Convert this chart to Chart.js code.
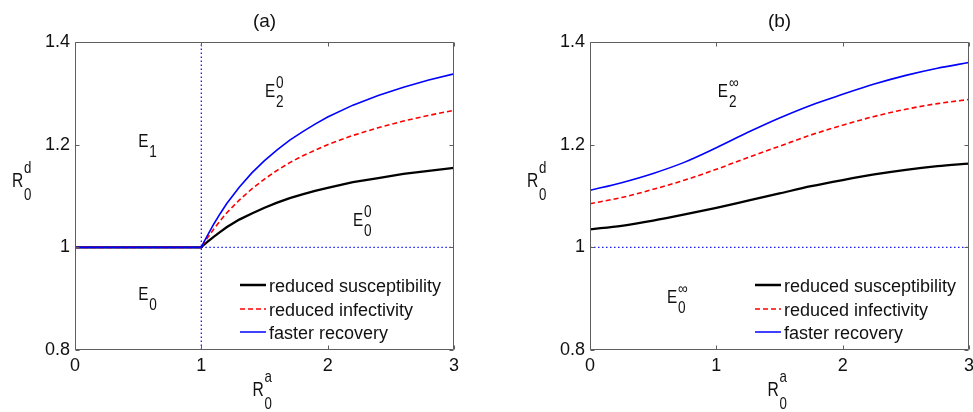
<!DOCTYPE html>
<html>
<head>
<meta charset="utf-8">
<script src="https://cdn.jsdelivr.net/npm/chart.js@4.4.1/dist/chart.umd.min.js"></script>
<style>
  html, body { margin: 0; padding: 0; background: #ffffff; }
  #wrap { position: relative; width: 973px; height: 412px; overflow: hidden; }
  canvas { position: absolute; top: 0; }
  #ca { left: 0; }
  #cb { left: 487px; }
</style>
</head>
<body>
<div id="wrap">
  <canvas id="ca" width="487" height="412"></canvas>
  <canvas id="cb" width="486" height="412"></canvas>
</div>
<script>
// ---------- data ----------
const xTicks = [0, 1, 2, 3];
const xTickLabels = ['0', '1', '2', '3'];
const yTicks = [0.8, 1, 1.2, 1.4];
const yTickLabels = ['0.8', '1', '1.2', '1.4'];

const seriesNames = ['reduced susceptibility', 'reduced infectivity', 'faster recovery'];

// panel (a)
const xA = [0, 1, 1.02, 1.05, 1.1, 1.15, 1.2, 1.3, 1.4, 1.5, 1.6, 1.7, 1.8, 1.9, 2.0, 2.2, 2.4, 2.6, 2.8, 3.0];
const suscA = [1, 1, 1.005, 1.011, 1.021, 1.030, 1.039, 1.054, 1.066, 1.077, 1.087, 1.096, 1.103, 1.110, 1.116, 1.127, 1.135, 1.143, 1.149, 1.155];
const infA  = [1, 1, 1.008, 1.019, 1.036, 1.052, 1.067, 1.092, 1.114, 1.133, 1.150, 1.165, 1.178, 1.189, 1.200, 1.218, 1.233, 1.246, 1.257, 1.267];
const recA  = [1, 1, 1.010, 1.024, 1.046, 1.066, 1.085, 1.117, 1.145, 1.169, 1.190, 1.209, 1.225, 1.240, 1.254, 1.277, 1.296, 1.312, 1.326, 1.338];
const vLineAx = [1, 1];
const vLineAy = [0.8, 1.4];
const hLineAx = [1, 3];
const hLineAy = [1, 1];

// panel (b)
const xB = [0, 0.25, 0.5, 0.75, 1.0, 1.25, 1.5, 1.75, 2.0, 2.25, 2.5, 2.75, 3.0];
const suscB = [1.035, 1.042, 1.052, 1.064, 1.077, 1.091, 1.105, 1.119, 1.131, 1.142, 1.151, 1.158, 1.163];
const infB  = [1.085, 1.097, 1.113, 1.131, 1.152, 1.175, 1.197, 1.219, 1.238, 1.255, 1.269, 1.280, 1.288];
const recB  = [1.111, 1.126, 1.144, 1.166, 1.194, 1.224, 1.252, 1.277, 1.298, 1.318, 1.335, 1.349, 1.360];
const hLineBx = [0, 3];
const hLineBy = [1, 1];

// ---------- helpers ----------
const FONT = '"Liberation Sans", Arial, Helvetica, sans-serif';
const zip = (xs, ys) => xs.map((x, i) => ({ x: x, y: ys[i] }));

function texLabel(ctx, x, y, base, sup, sub, bf, sf, supDy, subDy, sx) {
  ctx.save();
  ctx.translate(x, y);
  ctx.scale(sx, 1);
  ctx.textAlign = 'left';
  ctx.textBaseline = 'alphabetic';
  ctx.fillStyle = '#111';
  ctx.font = bf;
  ctx.fillText(base, 0, 0);
  const w = ctx.measureText(base).width;
  ctx.font = sf;
  if (sup) ctx.fillText(sup, w + 1, -supDy);
  if (sub) ctx.fillText(sub, w + 1, subDy);
  ctx.restore();
}

const annotPlugin = {
  id: 'annot',
  afterDraw(chart, args, opts) {
    const ctx = chart.ctx;
    const ca = chart.chartArea;
    const xs = chart.scales.x, ys = chart.scales.y;
    ctx.save();
    // axes box
    ctx.strokeStyle = '#5e5e5e';
    ctx.lineWidth = 1;
    const L = Math.round(ca.left) + 0.5, T = Math.round(ca.top) + 0.5;
    const R = Math.round(ca.right) - 0.5, B = Math.round(ca.bottom) - 0.5;
    ctx.beginPath();
    ctx.rect(L, T, R - L, B - T);
    ctx.stroke();
    // inward ticks
    const tl = 4;
    ctx.beginPath();
    xTicks.forEach(v => {
      const px = Math.round(xs.getPixelForValue(v)) + 0.5;
      ctx.moveTo(px, B); ctx.lineTo(px, B - tl);
      ctx.moveTo(px, T); ctx.lineTo(px, T + tl);
    });
    yTicks.forEach(v => {
      const py = Math.round(ys.getPixelForValue(v)) + 0.5;
      ctx.moveTo(L, py); ctx.lineTo(L + tl, py);
      ctx.moveTo(R, py); ctx.lineTo(R - tl, py);
    });
    ctx.stroke();

    // title
    ctx.fillStyle = '#111';
    ctx.font = '19px ' + FONT;
    ctx.textAlign = 'center';
    ctx.textBaseline = 'middle';
    ctx.fillText(opts.title, (ca.left + ca.right) / 2, 22);

    // axis labels
    const cx = (ca.left + ca.right) / 2;
    texLabel(ctx, cx - 12, 396, 'R', 'a', '0', '20px ' + FONT, '17px ' + FONT, 14, 13, 0.78);
    texLabel(ctx, ca.left - 63, 187, 'R', 'd', '0', '20px ' + FONT, '17px ' + FONT, 14, 13, 0.78);

    // region labels (placed in data coordinates)
    opts.regions.forEach(r => {
      texLabel(ctx, xs.getPixelForValue(r.x), ys.getPixelForValue(r.y), 'E', r.sup, r.sub,
        '18px ' + FONT, '16px ' + FONT, 9, 10, 0.85);
    });

    // legend
    const lx0 = ca.right - 214, lx1 = ca.right - 188, tx = ca.right - 185;
    const rows = [285, 309, 332];
    const styles = [
      { c: '#000000', w: 2.5, d: [] },
      { c: '#ff0000', w: 1.5, d: [5, 3] },
      { c: '#0000ff', w: 1.5, d: [] }
    ];
    seriesNames.forEach((name, i) => {
      const s = styles[i];
      ctx.beginPath();
      ctx.setLineDash(s.d);
      ctx.strokeStyle = s.c;
      ctx.lineWidth = s.w;
      ctx.moveTo(lx0, rows[i]); ctx.lineTo(lx1, rows[i]);
      ctx.stroke();
      ctx.setLineDash([]);
      ctx.fillStyle = '#111';
      ctx.font = '18px ' + FONT;
      ctx.textAlign = 'left';
      ctx.textBaseline = 'middle';
      ctx.fillText(name, tx, rows[i] + 2);
    });
    ctx.restore();
  }
};

function makeChart(id, yAxisWidth, padRight, datasets, title, regions, cubic) {
  const ds = datasets.map(d => Object.assign({
    fill: false, pointRadius: 0, pointHoverRadius: 0, tension: 0,
    cubicInterpolationMode: cubic ? 'monotone' : 'default'
  }, d));
  return new Chart(document.getElementById(id), {
    type: 'line',
    data: { datasets: ds },
    options: {
      responsive: false,
      animation: false,
      devicePixelRatio: 1,
      layout: { padding: { left: 0, right: padRight, top: 42, bottom: 0 } },
      plugins: {
        legend: { display: false },
        tooltip: { enabled: false },
        annot: { title: title, regions: regions }
      },
      scales: {
        x: {
          type: 'linear', min: 0, max: 3,
          grid: { display: false, drawTicks: false },
          border: { display: false },
          afterBuildTicks: s => { s.ticks = xTicks.map(v => ({ value: v })); },
          afterFit: s => { s.height = 62; s.paddingLeft = 0; s.paddingRight = 0; },
          ticks: {
            padding: 5, color: '#111', font: { family: FONT, size: 18 },
            maxRotation: 0, autoSkip: false,
            callback: v => xTickLabels[xTicks.indexOf(v)]
          }
        },
        y: {
          type: 'linear', min: 0.8, max: 1.4,
          grid: { display: false, drawTicks: false },
          border: { display: false },
          afterBuildTicks: s => { s.ticks = yTicks.map(v => ({ value: v })); },
          afterFit: s => { s.width = yAxisWidth; s.paddingTop = 0; s.paddingBottom = 0; },
          ticks: {
            padding: 5, color: '#111', font: { family: FONT, size: 18 },
            autoSkip: false,
            callback: v => yTickLabels[yTicks.indexOf(v)]
          }
        }
      }
    },
    plugins: [annotPlugin]
  });
}

const dotted = { borderColor: '#1a1aff', borderWidth: 1.3, borderDash: [1.5, 2.5], order: 5 };

makeChart('ca', 75, 33, [
  Object.assign({ data: zip(vLineAx, vLineAy) }, dotted),
  Object.assign({ data: zip(hLineAx, hLineAy) }, dotted),
  { label: seriesNames[0], data: zip(xA, suscA), borderColor: '#000000', borderWidth: 2.3, order: 3 },
  { label: seriesNames[1], data: zip(xA, infA), borderColor: '#ff0000', borderWidth: 1.6, borderDash: [5, 3], order: 2 },
  { label: seriesNames[2], data: zip(xA, recA), borderColor: '#0000ff', borderWidth: 1.6, order: 1 }
], '(a)', [
  { x: 0.50, y: 1.195, sub: '1', sup: '' },
  { x: 0.50, y: 0.897, sub: '0', sup: '' },
  { x: 1.504, y: 1.292, sub: '2', sup: '0' },
  { x: 2.20, y: 1.041, sub: '0', sup: '0' }
], false);

makeChart('cb', 103, 4, [
  Object.assign({ data: zip(hLineBx, hLineBy) }, dotted),
  { label: seriesNames[0], data: zip(xB, suscB), borderColor: '#000000', borderWidth: 2.3, order: 3 },
  { label: seriesNames[1], data: zip(xB, infB), borderColor: '#ff0000', borderWidth: 1.6, borderDash: [5, 3], order: 2 },
  { label: seriesNames[2], data: zip(xB, recB), borderColor: '#0000ff', borderWidth: 1.6, order: 1 }
], '(b)', [
  { x: 1.012, y: 1.292, sub: '2', sup: '\u221E' },
  { x: 0.609, y: 0.891, sub: '0', sup: '\u221E' }
], true);
</script>
</body>
</html>
